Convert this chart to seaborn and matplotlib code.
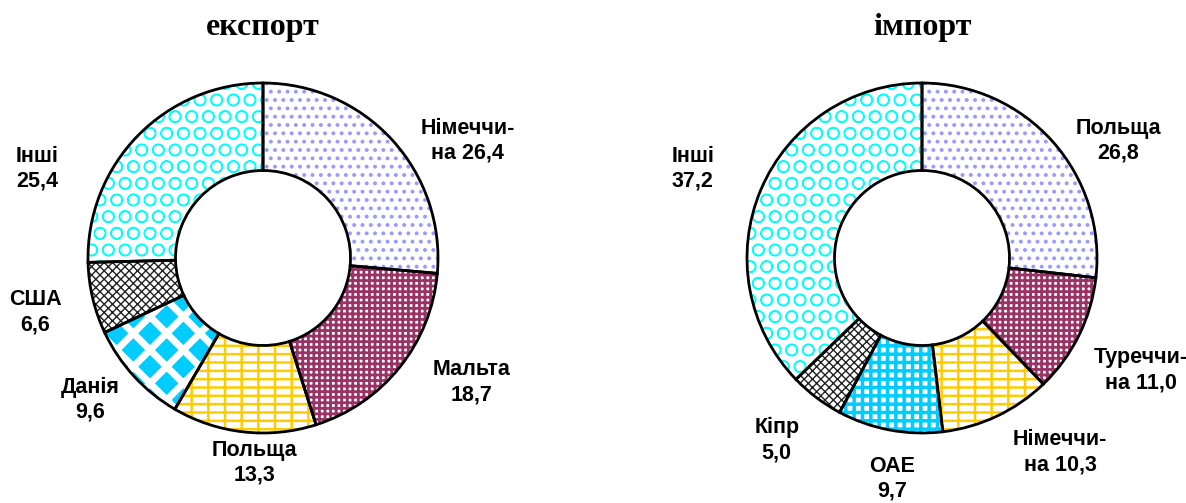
import matplotlib
matplotlib.use("Agg")
import matplotlib.pyplot as plt
import seaborn as sns

# ---------------- data ----------------
exp_labels = ["Німеччи-\nна", "Мальта", "Польща", "Данія", "США", "Інші"]
exp_values = [26.4, 18.7, 13.3, 9.6, 6.6, 25.4]
imp_labels = ["Польща", "Туреччи-\nна", "Німеччи-\nна", "ОАЕ", "Кіпр", "Інші"]
imp_values = [26.8, 11.0, 10.3, 9.7, 5.0, 37.2]
titles = ["експорт", "імпорт"]

# ---------------- styles ----------------
sns.set_theme(style="white")
plt.rcParams["font.family"] = ["Liberation Sans", "DejaVu Sans"]

# (face, hatch colour, hatch, hatch linewidth)
exp_styles = [
    ("white", "#9999ff", "..", 1.6),
    ("white", "#993366", "+++", 2.0),
    ("white", "#ffcc00", "--|", 1.8),
    ("#00ccff", "white", "x", 5.0),
    ("white", "#222222", "xxxx", 1.0),
    ("white", "#00ffff", "O", 1.0),
]
imp_styles = [
    ("white", "#9999ff", "..", 1.6),
    ("white", "#993366", "+++", 2.0),
    ("white", "#ffcc00", "--|", 1.8),
    ("white", "#00ccff", "++", 2.5),
    ("white", "#222222", "xxxx", 1.0),
    ("white", "#00ffff", "O", 1.0),
]
# label anchor positions in units of the outer radius
exp_pos = [(1.17, 0.67), (1.19, -0.71), (-0.05, -1.17), (-0.99, -0.81), (-1.30, -0.31), (-1.29, 0.51)]
imp_pos = [(1.12, 0.67), (1.25, -0.64), (0.79, -1.11), (-0.17, -1.26), (-0.83, -1.04), (-1.31, 0.51)]

W, H = 1186, 503
fig = plt.figure(figsize=(W / 100, H / 100), dpi=100)
R = 175.0
half = 1.5 * R


def donut(cx, cy, values, labels, styles, pos, title):
    ax = fig.add_axes([(cx - half) / W, (H - cy - half) / H, 2 * half / W, 2 * half / H])
    wedges, _ = ax.pie(values, startangle=90, counterclock=False, radius=1.0,
                       wedgeprops=dict(width=0.5, linewidth=0))
    for w, (face, hc, hatch, hlw) in zip(wedges, styles):
        w.set_facecolor(face)
        w.set_edgecolor(hc)
        w.set_linewidth(0)
        w.set_hatch(hatch)
        if hasattr(w, "set_hatch_linewidth"):
            w.set_hatch_linewidth(hlw)
        w._hatch_linewidth = hlw
    ax.pie(values, startangle=90, counterclock=False, radius=1.0,
           wedgeprops=dict(width=0.5, linewidth=2.0, edgecolor="black", facecolor="none"))
    ax.set_xlim(-1.5, 1.5)
    ax.set_ylim(-1.5, 1.5)
    ax.set_aspect("equal")
    ax.axis("off")
    for lab, v, (x, y) in zip(labels, values, pos):
        num = f"{v:.1f}".replace(".", ",")
        txt = f"{lab} {num}" if lab.endswith("на") else f"{lab}\n{num}"
        ax.text(x, y, txt, ha="center", va="center", fontsize=15.5, fontweight="bold",
                linespacing=1.25, color="black")
    fig.text(cx / W, 1 - 28 / H, title, ha="center", va="center", color="black",
             family="Liberation Serif", fontweight="bold", fontsize=23)


donut(263, 258, exp_values, exp_labels, exp_styles, exp_pos, titles[0])
donut(922, 258, imp_values, imp_labels, imp_styles, imp_pos, titles[1])

fig.savefig("out.png", dpi=100, facecolor="white")
